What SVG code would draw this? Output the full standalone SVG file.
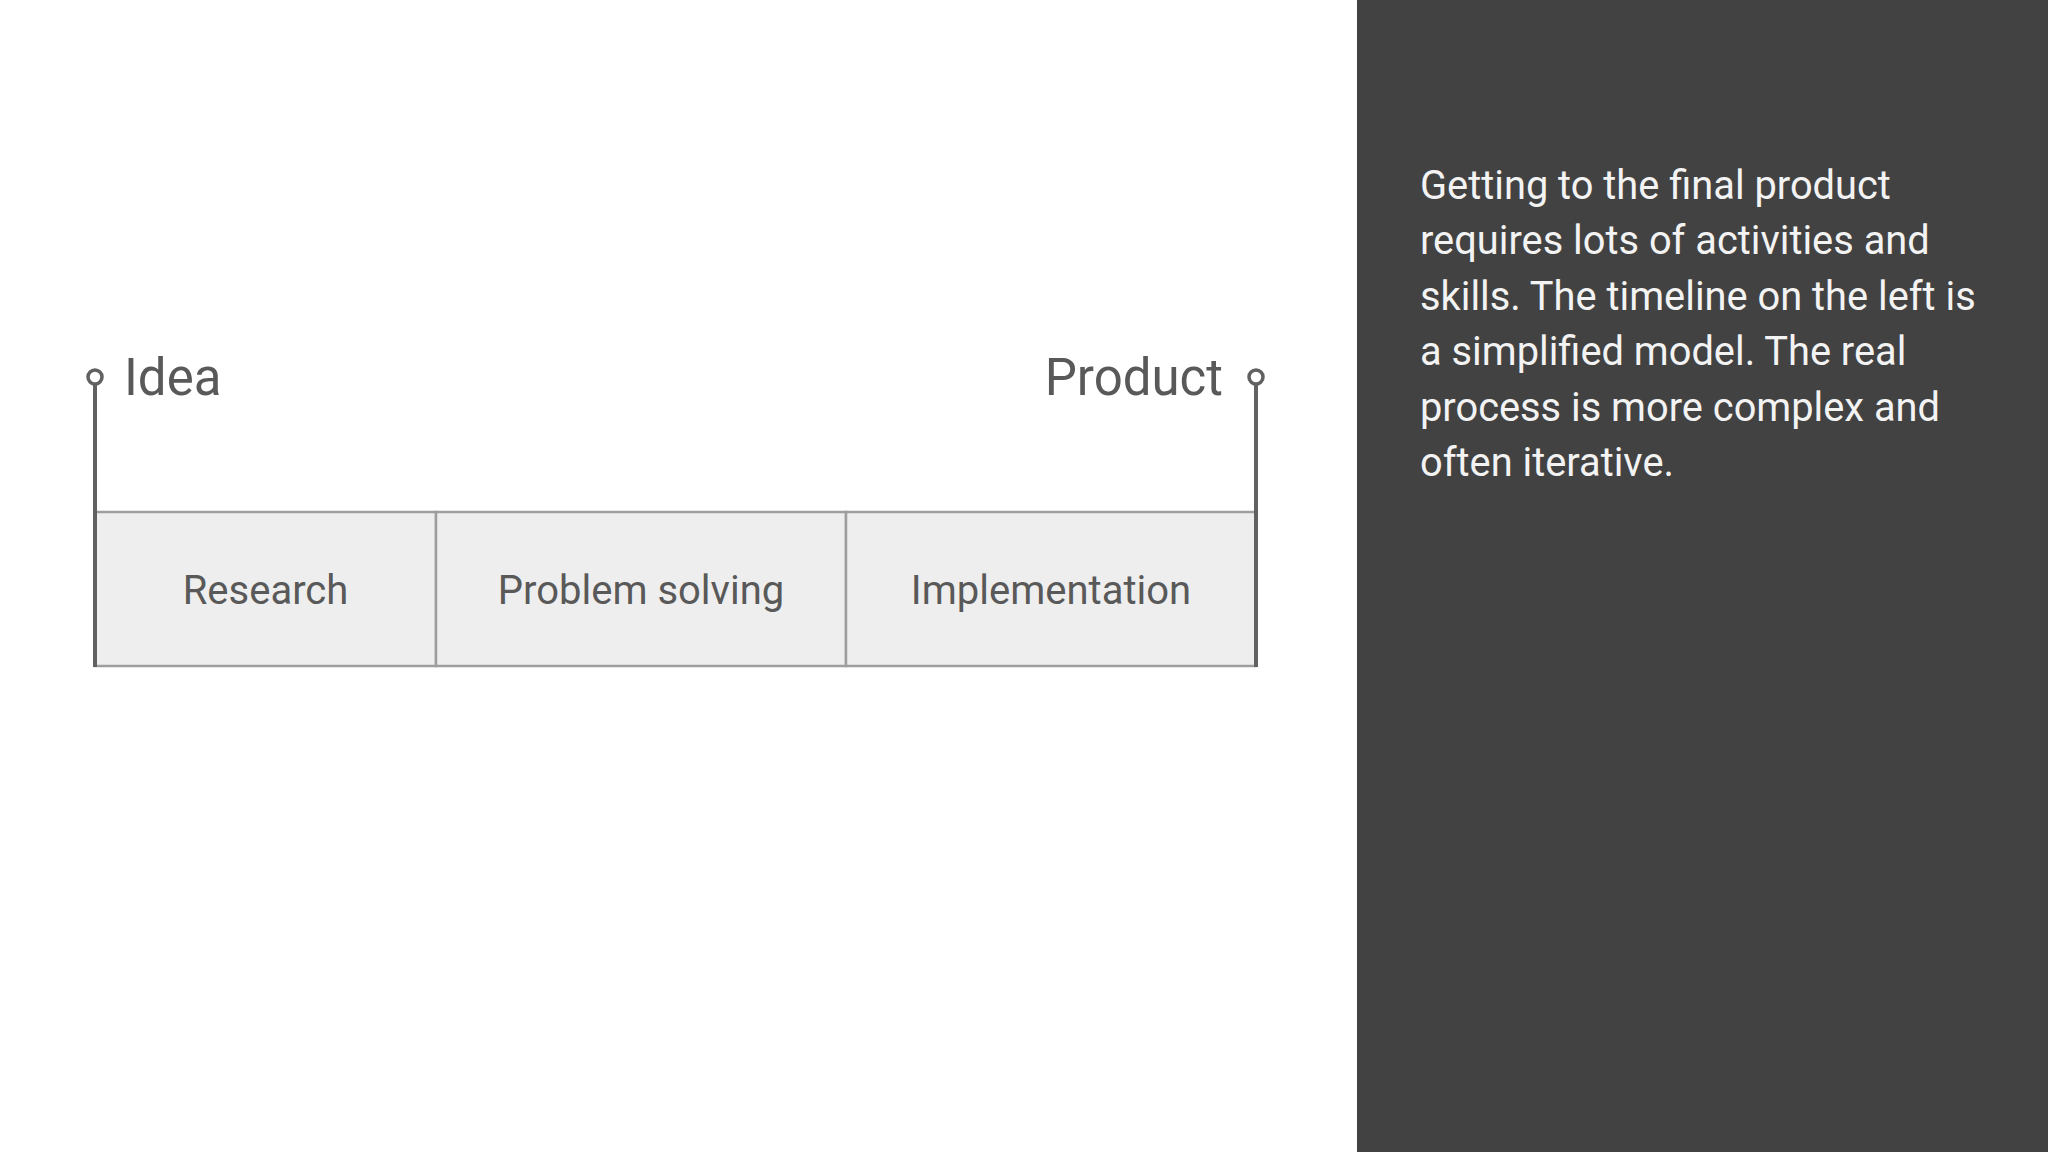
<svg xmlns="http://www.w3.org/2000/svg" width="2048" height="1152" viewBox="0 0 2048 1152">
  <style>
    .box { fill: #eeeeee; stroke: #9e9e9e; stroke-width: 2.5; }
    .lbl { font-family: Roboto, "Liberation Sans", sans-serif; font-size: 40px; fill: #595959; text-anchor: middle; }
    .end { font-family: Roboto, "Liberation Sans", sans-serif; font-size: 51px; fill: #595959; }
    .stem { stroke: #616161; stroke-width: 4; fill: none; }
    .dot { stroke: #616161; stroke-width: 3.5; fill: #ffffff; }
    .note { font-family: Roboto, "Liberation Sans", sans-serif; font-size: 39.8px; fill: #f3f3f3; }
  </style>
  <rect x="0" y="0" width="2048" height="1152" fill="#ffffff"/>
  <rect id="panel" x="1357" y="0" width="691" height="1152" fill="#424242"/>

  <g id="research">
    <rect class="box" x="95" y="512" width="341" height="154"/>
    <text class="lbl" x="265.5" y="604">Research</text>
  </g>
  <g id="problem-solving">
    <rect class="box" x="436" y="512" width="410" height="154"/>
    <text class="lbl" x="641" y="604">Problem solving</text>
  </g>
  <g id="implementation">
    <rect class="box" x="846" y="512" width="410" height="154"/>
    <text class="lbl" x="1051" y="604">Implementation</text>
  </g>

  <g id="connectors">
    <line class="stem" x1="95" y1="384" x2="95" y2="667"/>
    <line class="stem" x1="1256" y1="384" x2="1256" y2="667"/>
  </g>

  <g id="idea">
    <circle class="dot" cx="95" cy="377" r="7"/>
    <text class="end" x="124" y="395">Idea</text>
  </g>
  <g id="product">
    <circle class="dot" cx="1256" cy="377" r="7"/>
    <text class="end" x="1223" y="395" text-anchor="end">Product</text>
  </g>

  <g id="description">
    <text class="note" x="1420" y="198.5">Getting to the final product</text>
    <text class="note" x="1420" y="254">requires lots of activities and</text>
    <text class="note" x="1420" y="309.5">skills. The timeline on the left is</text>
    <text class="note" x="1420" y="365">a simplified model. The real</text>
    <text class="note" x="1420" y="420.5">process is more complex and</text>
    <text class="note" x="1420" y="476">often iterative.</text>
  </g>
</svg>
